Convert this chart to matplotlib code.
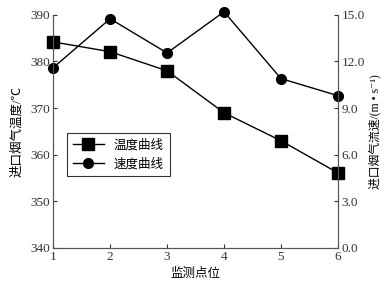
import matplotlib
matplotlib.use('Agg')
import matplotlib.pyplot as plt

plt.rcParams['font.family'] = ['Liberation Serif', 'Noto Sans CJK SC', 'DejaVu Sans']
plt.rcParams['axes.unicode_minus'] = False

points = [1, 2, 3, 4, 5, 6]
temperature = [384.2, 382.1, 378.0, 369.0, 363.0, 356.1]
speed = [11.6, 14.75, 12.55, 15.2, 10.9, 9.8]

fig = plt.figure(figsize=(3.88, 2.86), dpi=100)
ax = fig.add_axes([0.137, 0.133, 0.734, 0.815])
ax2 = ax.twinx()

l1, = ax.plot(points, temperature, color='black', lw=1.0, marker='s', markersize=8.5, label='温度曲线')
l2, = ax2.plot(points, speed, color='black', lw=1.0, marker='o', markersize=7, label='速度曲线')

ax.set_xlim(1, 6)
ax.set_ylim(340, 390)
ax.set_yticks([340, 350, 360, 370, 380, 390])
ax2.set_ylim(0, 15)
ax2.set_yticks([0, 3, 6, 9, 12, 15])
ax2.set_yticklabels(['0.0', '3.0', '6.0', '9.0', '12.0', '15.0'])
ax.set_xticks(points)

for a in (ax, ax2):
    a.spines['top'].set_visible(False)
    a.tick_params(direction='in', length=3, width=0.8, labelsize=9.5, colors='#333333', pad=2.5)
    for s in a.spines.values():
        s.set_color('#555555')
        s.set_linewidth(0.8)
l1.set_clip_on(False)
l2.set_clip_on(False)

ax.set_xlabel('监测点位', fontsize=9, labelpad=3)
ax.set_ylabel('进口烟气温度/℃', fontsize=9, labelpad=5)
ax2.set_ylabel('进口烟气流速/(m • s⁻¹)', fontsize=8.5, labelpad=3)

leg = ax.legend(handles=[l1, l2], loc='upper left', bbox_to_anchor=(0.025, 0.52),
                fontsize=9, frameon=True, fancybox=False, edgecolor='black',
                handlelength=2.5, borderpad=0.5, labelspacing=0.5)
leg.get_frame().set_linewidth(0.8)

fig.savefig('out.png', dpi=100)
